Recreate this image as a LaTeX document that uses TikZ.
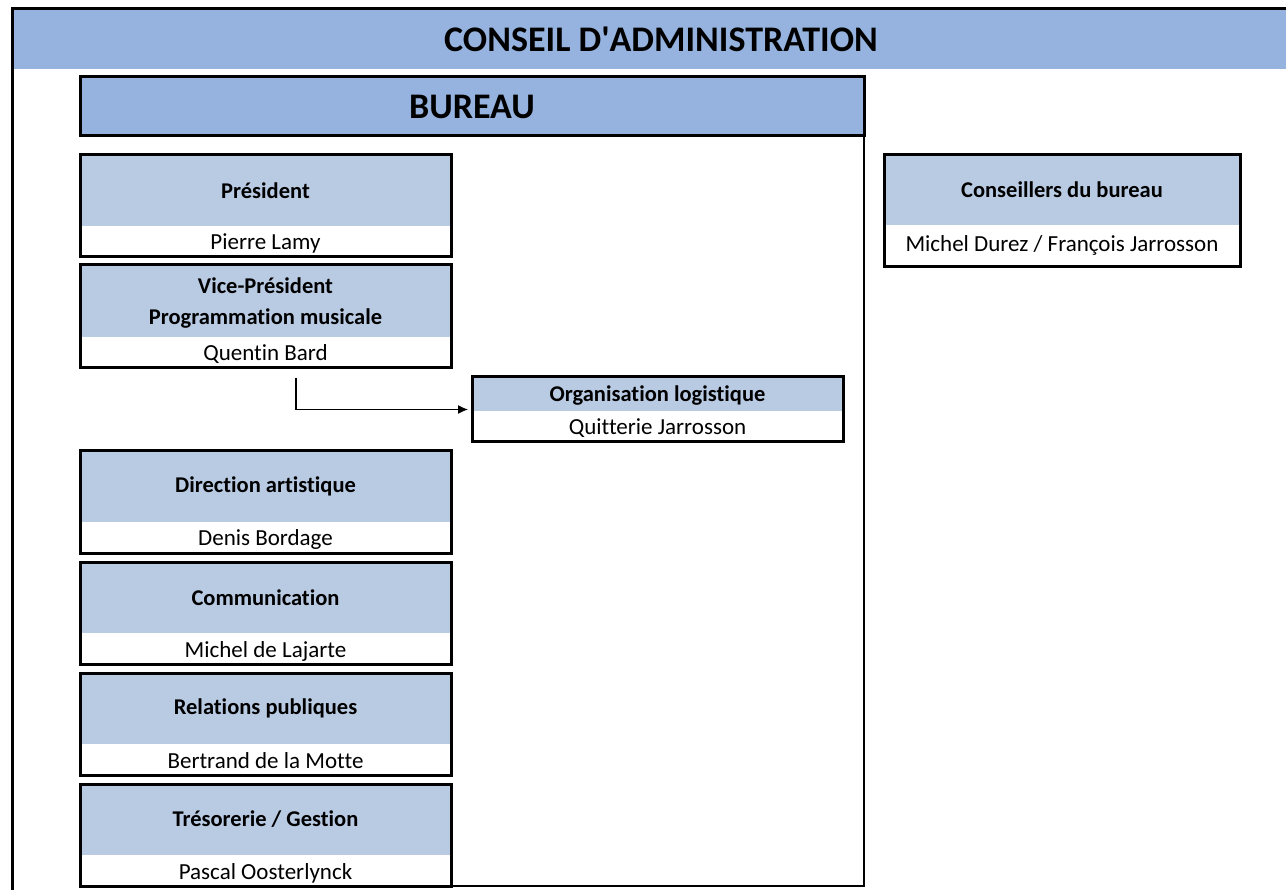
\documentclass[tikz,border=0pt]{standalone}
\usepackage{fontspec}
\setmainfont{Carlito}[Ligatures=NoCommon]
\usetikzlibrary{positioning,fit,arrows.meta}
\definecolor{bleufonce}{RGB}{149,179,222}
\definecolor{bleuclair}{RGB}{185,202,227}

\begin{document}
\begin{tikzpicture}[x=1pt, y=-1pt,
    titre/.style = {fill=bleuclair, inner sep=0pt, outer sep=0pt, minimum width=371pt, minimum height=71pt, align=center, font=\fontsize{22.5}{31}\selectfont\bfseries},
    nom/.style = {fill=white, inner sep=0pt, outer sep=0pt, minimum width=371pt, minimum height=31pt, text height=18pt, text depth=1pt, font=\fontsize{23}{27}\selectfont},
    cadre/.style = {draw, line width=3pt, inner sep=0pt, outer sep=0pt},
    bandeau/.style = {fill=bleufonce, inner sep=0pt, outer sep=0pt, font=\fontsize{36}{42}\selectfont\bfseries}]
    \useasboundingbox (0,0) rectangle (1286,890);
    \clip (0,0) rectangle (1286,890);

    % Conseil d'administration
    \node[bandeau, minimum width=1298pt, minimum height=60pt, anchor=north west] (conseil) at (12,9) {CONSEIL D\textquotesingle ADMINISTRATION};
    \draw[line width=3pt] (12,900) -- (conseil.north west) -- ++(1300,0);

    % Bureau
    \node[bandeau, cadre, minimum width=784pt, minimum height=59pt, text depth=0pt, anchor=north west] (bureau) at (80,77) {BUREAU};

    % Postes du bureau
    \node[titre, anchor=north west] (prest) at (80,155) {Président};
    \node[nom, below=0pt of prest] (presn) {Pierre Lamy};
    \node[cadre, fit=(prest)(presn)] (pres) {};

    \node[titre, minimum height=72pt, text depth=0pt, below=8pt of presn] (vpt) {Vice-Président\\Programmation musicale};
    \node[nom, below=0pt of vpt] (vpn) {Quentin Bard};
    \node[cadre, fit=(vpt)(vpn)] (vp) {};

    \node[titre, below=83pt of vpn] (dat) {Direction artistique};
    \node[nom, below=0pt of dat] (dan) {Denis Bordage};
    \node[cadre, fit=(dat)(dan)] (da) {};

    \node[titre, below=9pt of dan] (comt) {Communication};
    \node[nom, below=0pt of comt] (comn) {Michel de Lajarte};
    \node[cadre, fit=(comt)(comn)] (com) {};

    \node[titre, below=9pt of comn] (rpt) {Relations publiques};
    \node[nom, below=0pt of rpt] (rpn) {Bertrand de la Motte};
    \node[cadre, fit=(rpt)(rpn)] (rp) {};

    \node[titre, below=9pt of rpn] (tresot) {Trésorerie / Gestion};
    \node[nom, below=0pt of tresot] (treson) {Pascal Oosterlynck};
    \node[cadre, fit=(tresot)(treson)] (treso) {};

    % Organisation logistique
    \node[titre, minimum height=34pt, text depth=0pt, anchor=north west] (orgat) at (472,377) {Organisation logistique};
    \node[nom, below=0pt of orgat] (organ) {Quitterie Jarrosson};
    \node[cadre, fit=(orgat)(organ)] (orga) {};

    % Conseillers
    \node[titre, minimum width=356pt, minimum height=70pt, anchor=north west] (const) at (884,155) {Conseillers du bureau};
    \node[nom, minimum width=356pt, minimum height=42pt, text height=15pt, text depth=4pt, below=0pt of const] (consn) {Michel Durez / François Jarrosson};
    \node[cadre, fit=(const)(consn)] (cons) {};

    % Cadre du bureau
    \draw[line width=1.2pt] (bureau.south east) |- (treso.south east);

    % Fleche vers l'organisation
    \coordinate (depart) at (296,378);
    \draw[-{Latex[length=10pt,width=9pt]}, line width=1.2pt, shorten >=4pt] (depart) |- (orga.west);
\end{tikzpicture}
\end{document}
